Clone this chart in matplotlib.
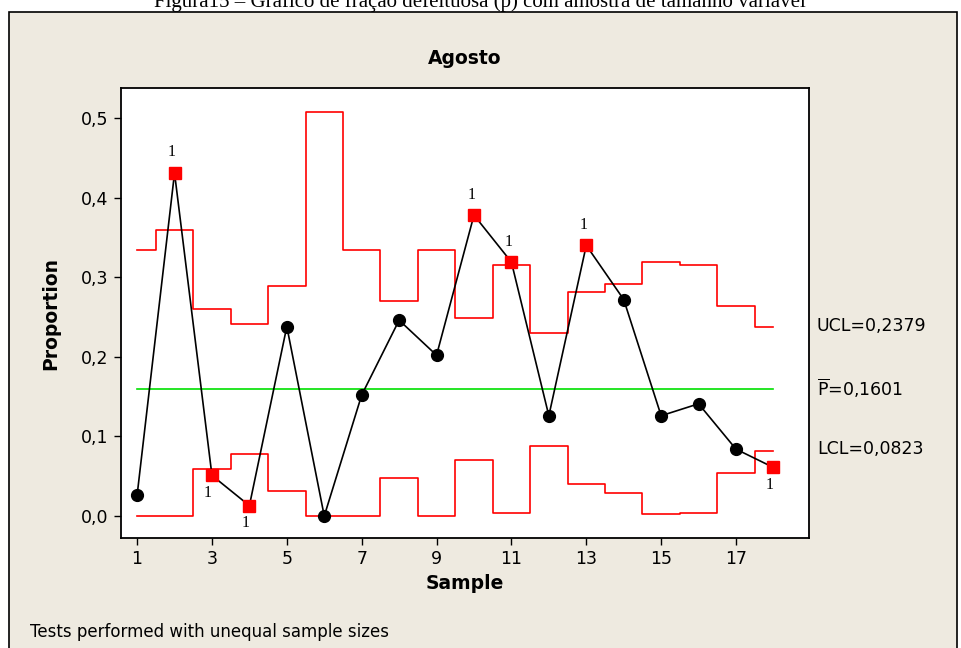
import matplotlib
matplotlib.use("Agg")
import matplotlib.pyplot as plt
import numpy as np
from matplotlib.patches import Rectangle

# data
samples = np.arange(1, 19)
proportion = [0.026, 0.431, 0.051, 0.013, 0.238, 0.0, 0.152, 0.246, 0.202,
              0.378, 0.319, 0.126, 0.340, 0.272, 0.126, 0.141, 0.084, 0.061]
ucl = [0.334, 0.359, 0.260, 0.241, 0.289, 0.507, 0.334, 0.270, 0.334,
       0.249, 0.315, 0.230, 0.281, 0.292, 0.319, 0.315, 0.264, 0.2379]
lcl = [0.0, 0.0, 0.059, 0.078, 0.031, 0.0, 0.0, 0.048, 0.0,
       0.070, 0.004, 0.088, 0.040, 0.029, 0.002, 0.004, 0.054, 0.0823]
p_bar = 0.1601
flagged = [2, 3, 4, 10, 11, 13, 18]
xticks = [1, 3, 5, 7, 9, 11, 13, 15, 17]
yticks = [0.0, 0.1, 0.2, 0.3, 0.4, 0.5]
ytick_labels = ["0,0", "0,1", "0,2", "0,3", "0,4", "0,5"]

bg = "#eeeae0"
font = "DejaVu Sans"

fig = plt.figure(figsize=(9.61, 6.48), dpi=100)
fig.patch.set_facecolor("white")

W, H = 961, 648
# beige panel with black border, drawn in its own background axes
bgax = fig.add_axes([0, 0, 1, 1], zorder=-5)
bgax.set_axis_off()
bgax.set_xlim(0, W)
bgax.set_ylim(H, 0)
bgax.add_patch(Rectangle((9, 12), 957 - 9, H, facecolor=bg, edgecolor="black", linewidth=1.2))

# caption, cut off at the top edge as in the source
fig.text(480 / W, 1 - 7 / H, "Figura15 \u2013 Gráfico de fração defeituosa (p) com amostra de tamanho variável",
         family="Liberation Serif", fontsize=15, ha="center", va="baseline")

ax = fig.add_axes([121 / W, 1 - 538 / H, (809 - 121) / W, (538 - 88) / H])
ax.set_facecolor("white")

# step limits: each sample spans +/- 0.5 except first and last
edges_l = np.maximum(samples - 0.5, 1)
edges_r = np.minimum(samples + 0.5, 18)
def step_xy(vals):
    xs, ys = [], []
    for a, b, v in zip(edges_l, edges_r, vals):
        xs += [a, b]
        ys += [v, v]
    return xs, ys

xu, yu = step_xy(ucl)
xl, yl = step_xy(lcl)
ax.plot(xu, yu, color="red", lw=1.2, zorder=2)
ax.plot(xl, yl, color="red", lw=1.2, zorder=2)
ax.plot([1, 18], [p_bar, p_bar], color="#00e000", lw=1.2, zorder=2)

ax.plot(samples, proportion, color="black", lw=1.2, zorder=3)
normal = [s for s in samples if s not in flagged]
ax.plot(normal, [proportion[s - 1] for s in normal], "o", color="black", ms=8.5, zorder=4)
ax.plot(flagged, [proportion[s - 1] for s in flagged], "s", color="red", ms=8.5, zorder=4)

for s in flagged:
    v = proportion[s - 1]
    if v > ucl[s - 1]:
        ax.annotate("1", (s, v), xytext=(-2, 9), textcoords="offset points",
                    ha="center", va="bottom", family="Liberation Serif", fontsize=11.5)
    else:
        ax.annotate("1", (s, v), xytext=(-3, -7), textcoords="offset points",
                    ha="center", va="top", family="Liberation Serif", fontsize=11.5)

ax.set_xlim(0.57, 18.95)
ax.set_ylim(-0.0276, 0.5377)
ax.set_xticks(xticks)
ax.set_xticklabels([str(t) for t in xticks])
ax.set_yticks(yticks)
ax.set_yticklabels(ytick_labels)
ax.tick_params(direction="out", length=5, width=1, labelsize=12.5, pad=4)
for sp in ax.spines.values():
    sp.set_linewidth(1.3)

ax.set_title("Agosto", fontsize=13.5, fontweight="bold", family=font, pad=17)
ax.set_xlabel("Sample", fontsize=13.5, fontweight="bold", family=font, labelpad=4)
ax.set_ylabel("Proportion", fontsize=13.5, fontweight="bold", family=font, labelpad=15)
for lab in ax.get_xticklabels() + ax.get_yticklabels():
    lab.set_family(font)

# right side limit labels
fig.text(817 / W, 1 - 326 / H, "UCL=0,2379", fontsize=12.5, va="center", family=font)
fig.text(817 / W, 1 - 388 / H, r"$\overline{\mathrm{P}}$=0,1601", fontsize=12.5, va="center", family=font)
fig.text(817 / W, 1 - 449 / H, "LCL=0,0823", fontsize=12.5, va="center", family=font)

fig.text(30 / W, 1 - 632 / H, "Tests performed with unequal sample sizes", fontsize=12, va="center", family=font)

fig.savefig("out.png", dpi=100)
